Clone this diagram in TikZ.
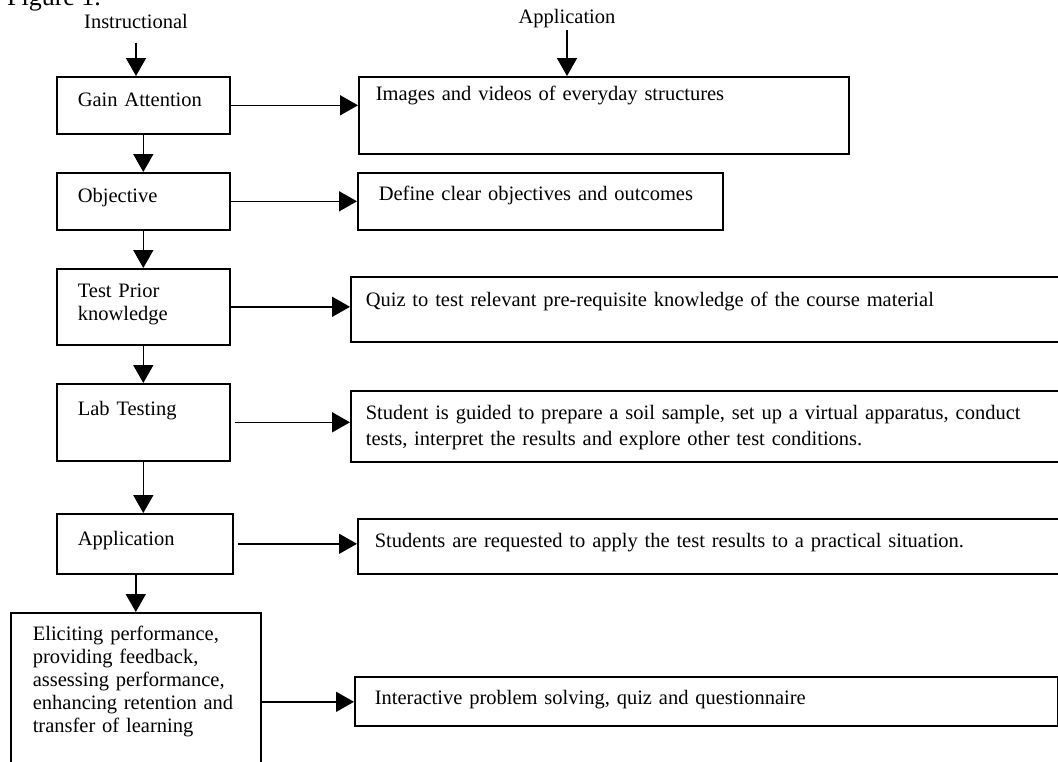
\documentclass[tikz,border=0pt]{standalone}
\usepackage{fontspec}
\setmainfont{Liberation Serif}
\usetikzlibrary{arrows.meta,positioning}
\tikzset{
    stage/.style={draw,line width=0.8pt,anchor=north west,align=left,inner xsep=10.5pt,inner ysep=0pt,text height=7pt},
    act/.style={draw,line width=0.8pt,anchor=north west,align=left,inner ysep=0pt,text height=7pt},
    lbl/.style={inner sep=1.25pt},
    arrow/.style={-{Triangle[length=9pt,width=10pt]},line width=0.8pt}
}
\begin{document}
\begin{tikzpicture}[x=0.5pt,y=-0.5pt,every node/.style={font=\fontsize{10.25}{11.5}\selectfont}]
    \useasboundingbox (0,0) rectangle (1058,761);
    \clip (0,0) rectangle (1058,761);
    \node[anchor=base west,font=\fontsize{13}{15}\selectfont] (fig) at (0,5) {Figure 1.};
    \node[lbl,anchor=base] (instr) at (136,28) {Instructional};
    \node[lbl,anchor=base] (applab) at (567,23) {Application};
    % instructional steps
    \node[stage,text width=65.5pt,minimum height=28.5pt,text depth=5.5pt] (gain) at (56,76) {Gain Attention};
    \node[stage,text width=65.5pt,minimum height=28.5pt,text depth=5.5pt] (obj) at (56,172) {Objective};
    \node[stage,text width=65.5pt,minimum height=38pt,text depth=16pt] (prior) at (56,268) {Test Prior\\knowledge};
    \node[stage,text width=65.5pt,minimum height=38.5pt,text depth=13.5pt] (lab) at (56,383) {Lab Testing};
    \node[stage,text width=67pt,minimum height=30pt,text depth=5pt] (appl) at (56,513) {Application};
    \node[stage,inner xsep=11pt,text width=103pt,minimum height=89pt,text depth=68pt] (elicit) at (10,612) {Eliciting performance,\\providing feedback,\\assessing performance,\\enhancing retention and\\transfer of learning};
    % application side
    \node[act,inner xsep=8.5pt,text width=228pt,minimum height=38.5pt,text depth=21.5pt] (imgs) at (358,76) {Images and videos of everyday structures};
    \node[act,inner xsep=10.5pt,text width=161.5pt,minimum height=28.5pt,text depth=7.5pt] (goal) at (357,172) {Define clear objectives and outcomes};
    \node[act,inner xsep=7.5pt,text width=347.5pt,minimum height=32.5pt,text depth=9.5pt] (quiz) at (350,276) {Quiz to test relevant pre-requisite knowledge of the course material};
    \node[act,inner xsep=7.5pt,text width=347.5pt,minimum height=35.5pt,text depth=13.5pt,font=\fontsize{10.25}{13}\selectfont] (virt) at (350,390) {Student is guided to prepare a soil sample, set up a virtual apparatus, conduct\\tests, interpret the results and explore other test conditions.};
    \node[act,inner xsep=8.5pt,text width=342pt,minimum height=27.5pt,text depth=5.5pt] (req) at (357,518) {Students are requested to apply the test results to a practical situation.};
    \node[act,inner xsep=10pt,text width=331.5pt,minimum height=24.5pt,text depth=3.5pt] (solve) at (354,676) {Interactive problem solving, quiz and questionnaire};
    % arrows
    \draw[arrow] ([yshift=-5.75pt]instr.south) -- (instr.south |- gain.north);
    \draw[arrow] (applab.south) -- (applab.south |- imgs.north);
    \draw[arrow] (gain) -- (obj);
    \draw[arrow] (obj) -- (prior);
    \draw[arrow] (prior) -- (lab);
    \draw[arrow] (lab.south) -- (lab.south |- appl.north);
    \draw[arrow] (appl.south -| elicit.north) -- (elicit.north);
    \draw[arrow] (gain.east) -- (gain.east -| imgs.west);
    \draw[arrow] (obj.east) -- (obj.east -| goal.west);
    \draw[arrow] (prior.east) -- (prior.east -| quiz.west);
    \draw[arrow] ([xshift=2pt]lab.east) -- (lab.east -| virt.west);
    \draw[arrow] ([xshift=2pt]appl.east) -- (appl.east -| req.west);
    \draw[arrow] (elicit.east) -- (elicit.east -| solve.west);
\end{tikzpicture}
\end{document}
